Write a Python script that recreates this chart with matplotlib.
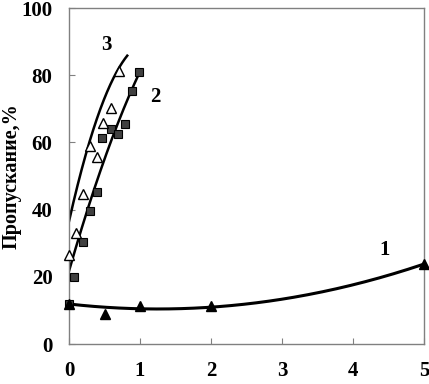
import numpy as np
import matplotlib
matplotlib.use("Agg")
import matplotlib.pyplot as plt

# series 1 - filled triangles
x1 = [0, 0.5, 1, 2, 5]
y1 = [12, 9, 11.3, 11.3, 23.8]
# series 2 - gray squares
x2 = [0, 0.075, 0.19, 0.29, 0.39, 0.47, 0.59, 0.69, 0.79, 0.88, 0.99]
y2 = [12, 20.0, 30.4, 39.5, 45.2, 61.4, 63.9, 62.5, 65.4, 75.3, 80.9]
# series 3 - open triangles
x3 = [0, 0.1, 0.19, 0.29, 0.39, 0.48, 0.59, 0.70]
y3 = [26.5, 33.2, 44.6, 58.9, 55.7, 65.7, 70.3, 81.3]

# trend lines
t1x = [0, 1, 1.5, 2, 5]
t1y = [11.9, 10.6, 10.4, 11.0, 23.8]
t2x = [0, 0.28, 0.5, 0.6, 1.0]
t2y = [23, 38, 56, 62.7, 80.5]
t3x = [0, 0.11, 0.23, 0.51, 0.82]
t3y = [35, 47.8, 57.7, 71.6, 86.5]

plt.rcParams['font.family'] = ['Liberation Serif', 'DejaVu Serif']
plt.rcParams['font.weight'] = 'bold'

fig = plt.figure(figsize=(4.29, 3.84), dpi=100)
ax = fig.add_axes([0.161, 0.104, 0.827, 0.875])


def trend(tx, ty, deg):
    p = np.polyfit(tx, ty, deg)
    xs = np.linspace(min(tx), max(tx), 200)
    return xs, np.polyval(p, xs)


xs, ys = trend(t1x, t1y, 2)
ax.plot(xs, ys, color='black', lw=2.2, zorder=2)
xs, ys = trend(t2x, t2y, 2)
ax.plot(xs, ys, color='black', lw=1.8, zorder=2)
xs, ys = trend(t3x, t3y, 2)
ax.plot(xs, ys, color='black', lw=1.8, zorder=2)

ax.plot(x2, y2, 's', ms=6, mfc='#404040', mec='black', mew=0.8, ls='none', zorder=3, clip_on=False)
ax.plot(x3, y3, '^', ms=7, mfc='white', mec='black', mew=1.0, ls='none', zorder=3, clip_on=False)
ax.plot(x1, y1, '^', ms=7, mfc='black', mec='black', ls='none', zorder=4, clip_on=False)

ax.text(4.44, 28, '1', fontsize=15, fontweight='bold', ha='center', va='center')
ax.text(1.21, 73.5, '2', fontsize=15, fontweight='bold', ha='center', va='center')
ax.text(0.52, 89, '3', fontsize=15, fontweight='bold', ha='center', va='center')

ax.set_xlim(0, 5)
ax.set_ylim(0, 100)
ax.set_xticks([0, 1, 2, 3, 4, 5])
ax.set_yticks([0, 20, 40, 60, 80, 100])
ax.tick_params(axis='both', direction='in', length=4, color='#808080', labelsize=15)
ax.tick_params(axis='x', pad=12)
ax.tick_params(axis='y', pad=12)
for s in ax.spines.values():
    s.set_color('#808080')
    s.set_linewidth(1)

ax.set_ylabel('Пропускание,%', fontsize=14.5, fontweight='bold')
ax.yaxis.set_label_coords(-0.133, 0.5)

plt.savefig('out.png', dpi=100)
